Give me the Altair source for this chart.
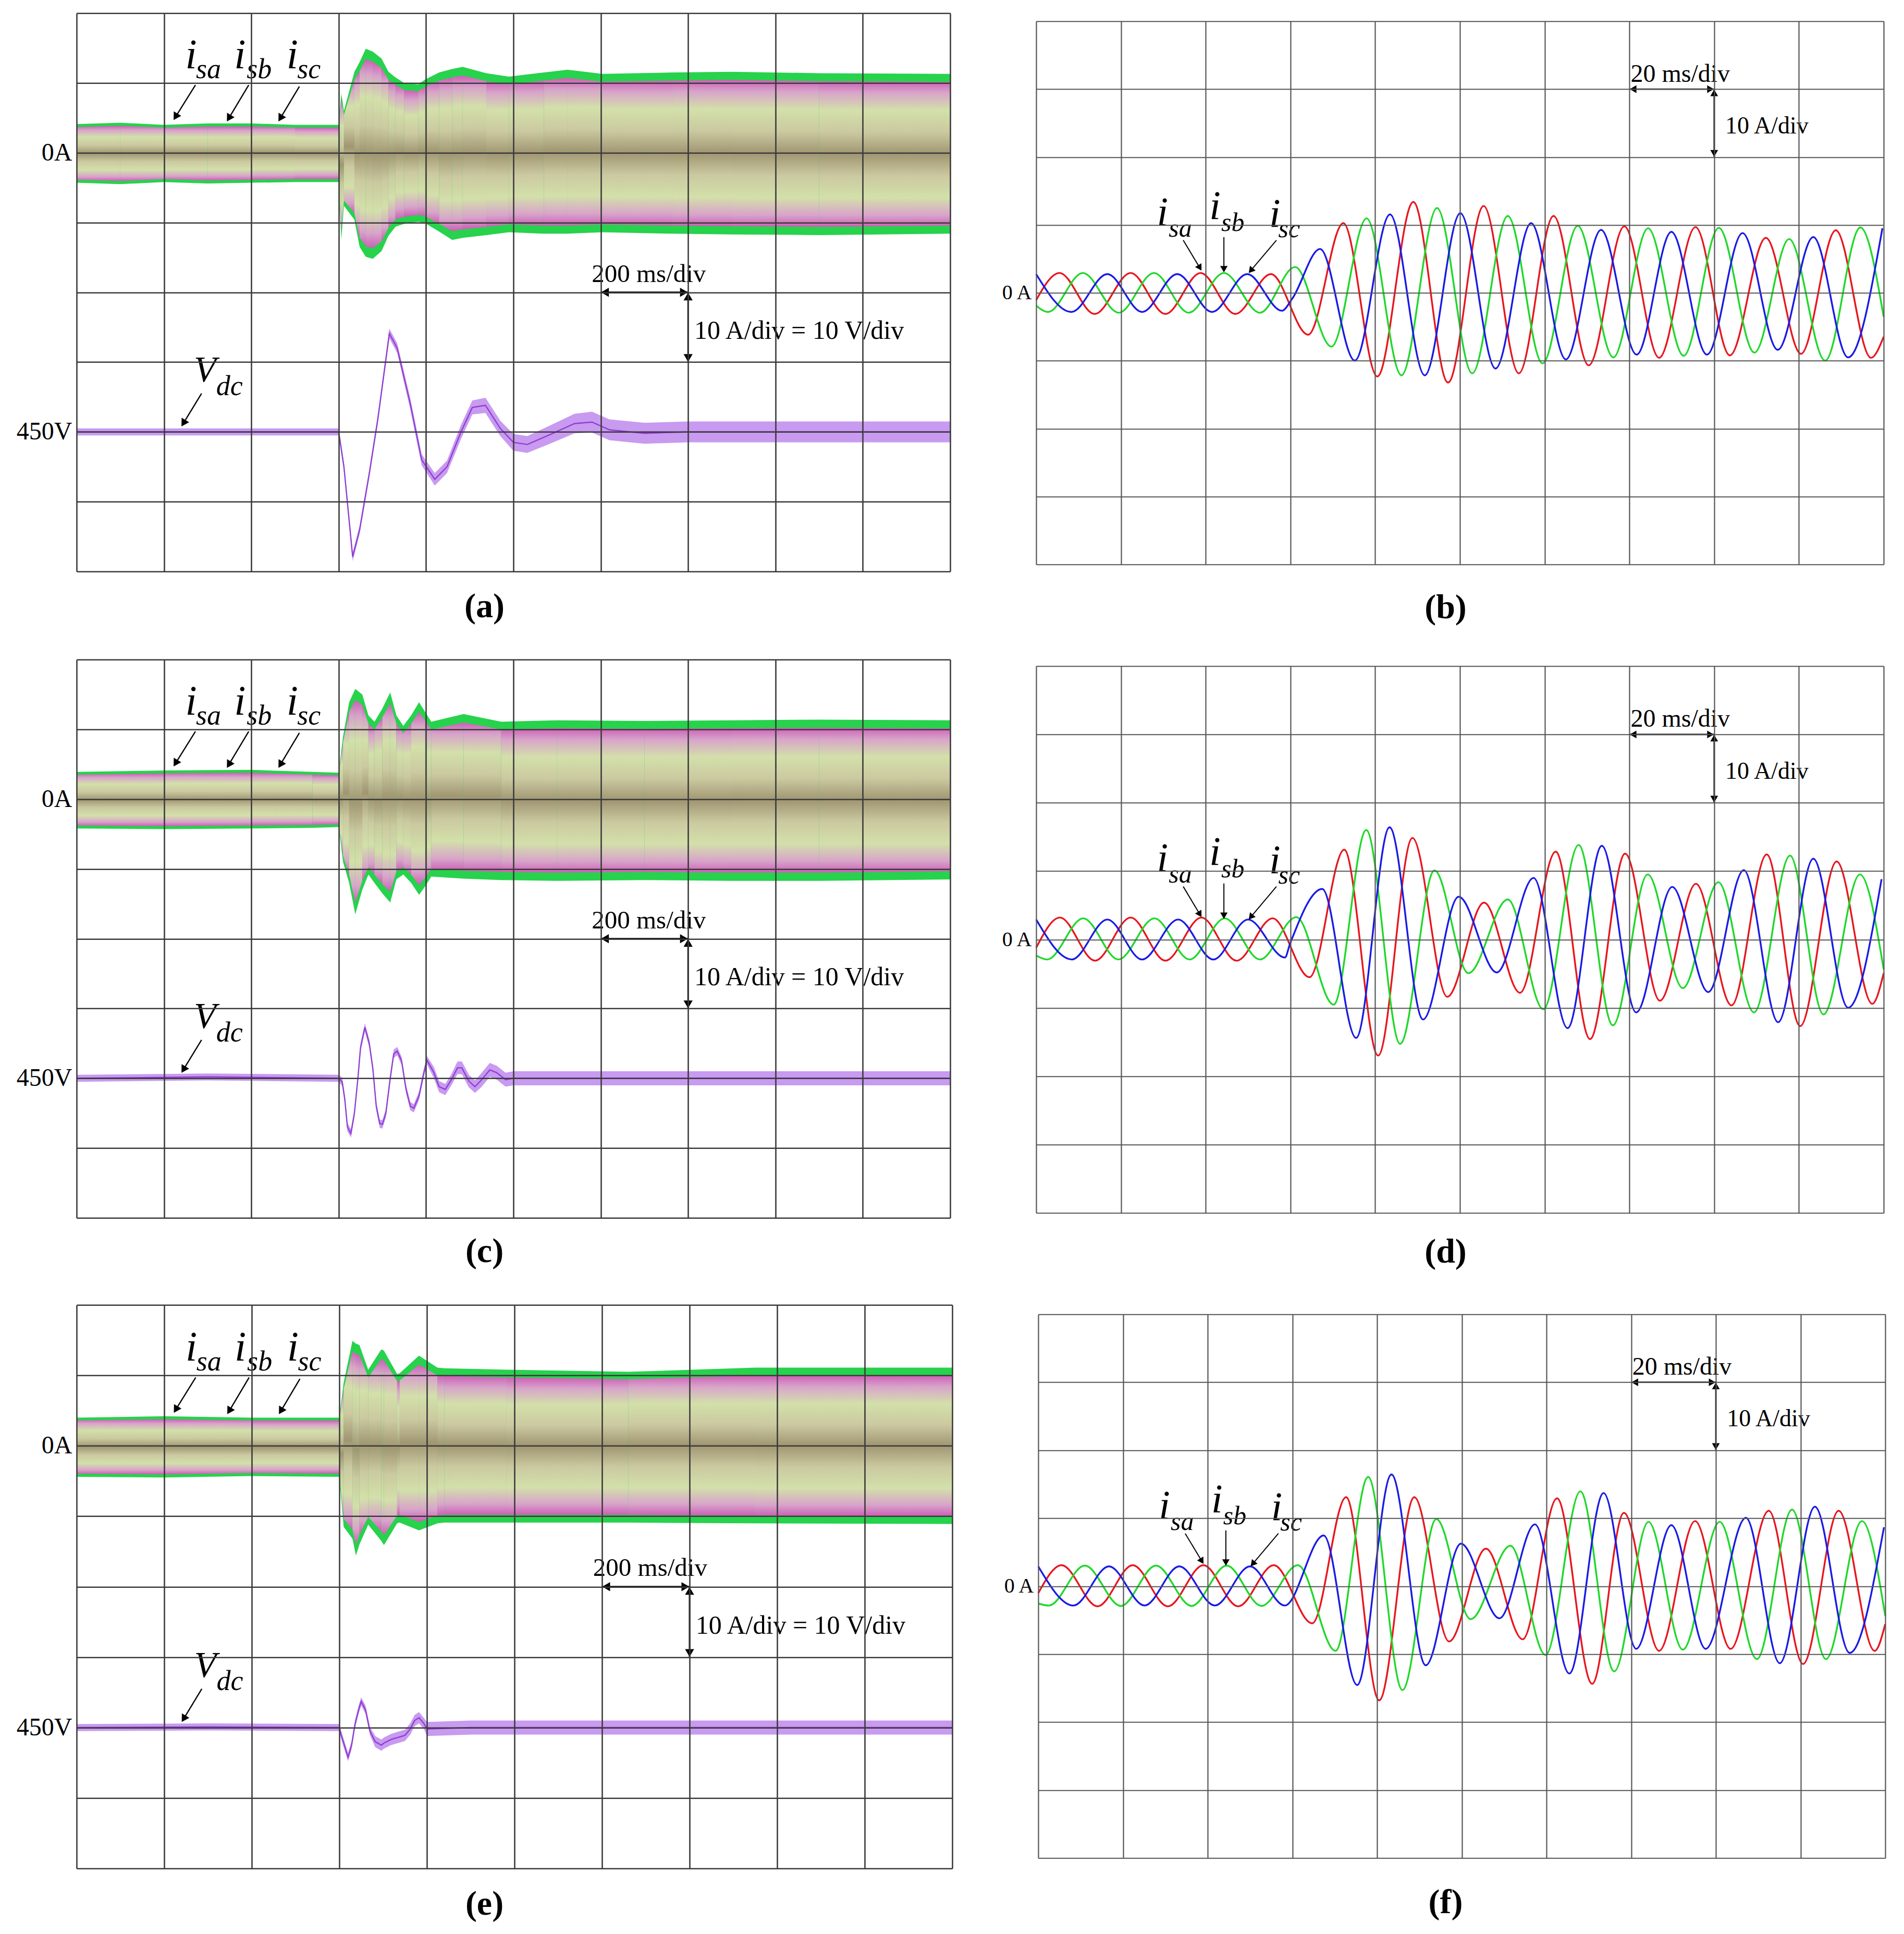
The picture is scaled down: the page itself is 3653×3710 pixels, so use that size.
import altair as alt
import pandas as pd

FONT = "Liberation Serif"

# ------------------------------------------------------------------
# Left panels: envelope of the three dense phase currents (A) and Vdc (V)
# time in ms (200 ms/div), 10 A/div, 10 V/div
# ------------------------------------------------------------------
A_ENV_T = [0, 100, 200, 300, 400, 500, 600, 606, 612, 636, 648, 662, 678, 698, 714, 730, 750, 782, 798, 830, 860, 884, 938, 990, 1070, 1124, 1204, 1364, 1500, 1700, 2000]
A_ENV_UP = [4.1, 4.3, 4.0, 4.2, 4.2, 4.0, 4.0, 8.5, 6.0, 11.6, 13.0, 14.9, 14.5, 13.5, 11.6, 10.8, 10.0, 9.8, 10.5, 11.5, 12.0, 12.3, 11.4, 10.9, 11.5, 11.9, 11.3, 11.5, 11.6, 11.4, 11.3]
A_ENV_LO = [-4.3, -4.5, -4.2, -4.4, -4.3, -4.2, -4.2, -12.4, -7.6, -9.6, -13.5, -14.9, -15.2, -14.1, -11.9, -10.6, -10.2, -9.9, -10.1, -11.3, -12.5, -12.2, -11.8, -11.4, -11.6, -11.6, -11.4, -11.6, -11.7, -11.8, -11.6]
A_VDC_T = [0, 300, 600, 612, 632, 648, 670, 690, 716, 734, 764, 790, 820, 848, 880, 906, 936, 970, 1000, 1032, 1080, 1140, 1180, 1220, 1300, 1400, 1600, 2000]
A_VDC_V = [450.0, 450.0, 450.0, 445.0, 432.1, 436.0, 444.0, 452.0, 464.1, 462.0, 454.0, 446.0, 443.2, 445.0, 450.0, 453.5, 453.8, 450.5, 448.5, 448.2, 449.5, 451.2, 451.4, 450.3, 449.8, 450.0, 450.0, 450.0]
A_VDC_R = [0.5, 0.5, 0.5, 0.6, 0.6, 0.6, 0.6, 0.6, 0.7, 0.7, 0.8, 0.8, 0.9, 0.9, 1.0, 1.0, 1.1, 1.1, 1.2, 1.2, 1.3, 1.4, 1.5, 1.5, 1.5, 1.5, 1.5, 1.5]

C_ENV_T = [0, 200, 400, 540, 600, 610, 624, 638, 654, 668, 682, 700, 718, 732, 748, 766, 784, 798, 812, 886, 972, 1100, 1300, 1500, 1700, 2000]
C_ENV_UP = [3.9, 4.1, 4.2, 3.9, 3.8, 9.0, 13.9, 15.8, 15.0, 12.0, 11.1, 13.0, 15.3, 12.0, 10.5, 12.0, 13.9, 12.5, 11.1, 12.2, 11.1, 11.3, 11.2, 11.3, 11.4, 11.3]
C_ENV_LO = [-4.2, -4.3, -4.2, -4.1, -4.0, -9.0, -12.0, -16.5, -13.0, -10.8, -12.0, -13.5, -14.8, -11.5, -10.8, -12.0, -13.7, -12.5, -11.1, -11.4, -11.6, -11.7, -11.6, -11.7, -11.7, -11.5]
C_VDC_T = [0, 300, 600, 608, 614, 620, 628, 636, 644, 650, 660, 670, 678, 686, 694, 700, 708, 718, 726, 734, 744, 754, 764, 772, 784, 794, 802, 818, 830, 844, 858, 872, 882, 898, 912, 926, 946, 962, 982, 1000, 1200, 1500, 2000]
C_VDC_V = [450.0, 450.2, 450.0, 449.5, 447.0, 443.0, 442.1, 445.0, 450.0, 454.4, 457.3, 455.0, 451.5, 446.0, 443.5, 443.4, 445.0, 450.0, 453.5, 453.9, 452.5, 448.5, 446.0, 445.7, 447.5, 450.5, 452.6, 450.8, 448.8, 448.4, 449.8, 451.5, 451.5, 449.6, 448.8, 449.7, 451.2, 450.8, 449.8, 450.0, 450.0, 450.0, 450.0]
C_VDC_R = [0.5, 0.5, 0.5, 0.6, 0.6, 0.6, 0.6, 0.6, 0.6, 0.6, 0.6, 0.6, 0.6, 0.6, 0.6, 0.6, 0.6, 0.6, 0.6, 0.6, 0.6, 0.6, 0.6, 0.6, 0.6, 0.6, 0.6, 0.8, 0.8, 0.8, 0.8, 0.9, 0.9, 0.9, 0.9, 1.0, 1.0, 1.0, 1.0, 1.0, 1.0, 1.0, 1.0]

E_ENV_T = [0, 200, 400, 600, 610, 630, 638, 646, 666, 696, 702, 732, 738, 782, 824, 840, 982, 1260, 1550, 2000]
E_ENV_UP = [4.0, 4.2, 4.0, 4.0, 9.0, 14.9, 14.5, 14.3, 10.8, 13.7, 13.5, 10.2, 10.3, 12.8, 11.1, 11.0, 10.8, 10.5, 11.1, 11.1]
E_ENV_LO = [-4.4, -4.5, -4.3, -4.4, -11.5, -13.2, -15.6, -14.0, -11.2, -13.5, -14.1, -11.0, -10.9, -12.0, -11.0, -10.9, -10.9, -10.9, -11.0, -11.1]
E_VDC_T = [0, 300, 600, 604, 620, 628, 636, 644, 650, 660, 670, 682, 696, 702, 718, 734, 750, 762, 772, 782, 794, 800, 900, 1200, 1600, 2000]
E_VDC_V = [450.0, 450.1, 450.0, 449.0, 445.8, 447.5, 450.5, 452.5, 453.7, 452.5, 449.5, 448.0, 447.5, 447.8, 448.3, 448.6, 448.9, 449.8, 451.0, 451.4, 450.5, 449.8, 450.0, 450.0, 450.0, 450.0]
E_VDC_R = [0.5, 0.5, 0.5, 0.6, 0.6, 0.6, 0.6, 0.6, 0.6, 0.6, 0.6, 0.8, 0.8, 0.8, 0.8, 0.8, 0.8, 0.8, 0.8, 0.8, 0.8, 1.0, 1.0, 1.0, 1.0, 1.0]

# ------------------------------------------------------------------
# Right panels: extrema of the three phase currents (ms, A), 20 ms/div, 10 A/div
# ------------------------------------------------------------------
B_RED_T = [0.0, 5.5, 13.8, 22.3, 30.5, 38.8, 47.0, 55.4, 64.2, 72.5, 80.5, 89.0, 97.2, 105.6, 113.9, 122.1, 130.4, 138.8, 147.0, 155.6, 163.7, 172.2, 180.5, 188.7, 197.0, 200.0]
B_RED_I = [-1.06, 2.93, -3.11, 2.93, -3.11, 2.93, -3.11, 2.76, -6.16, 10.27, -12.32, 13.38, -13.21, 12.79, -11.86, 11.33, -10.68, 9.80, -9.57, 9.68, -9.21, 8.10, -8.98, 9.21, -9.57, -6.46]
B_GRN_T = [0.0, 2.8, 11.0, 19.5, 27.8, 36.0, 44.3, 52.8, 61.1, 69.7, 78.0, 86.2, 94.6, 102.9, 111.3, 119.5, 127.8, 136.2, 144.4, 152.8, 161.1, 169.5, 177.7, 186.2, 194.5, 200.0]
B_GRN_I = [-1.88, -2.82, 2.93, -2.93, 2.93, -2.93, 2.93, -2.93, 3.81, -7.92, 10.97, -12.15, 12.50, -11.86, 11.33, -10.39, 9.86, -9.51, 9.51, -9.27, 9.57, -8.80, 7.92, -9.98, 9.63, -3.52]
B_BLU_T = [0.0, 8.3, 16.8, 25.0, 33.3, 41.5, 49.8, 58.0, 60.4, 67.0, 75.2, 83.5, 91.7, 100.1, 108.4, 116.8, 125.0, 133.3, 141.7, 149.9, 158.3, 166.7, 175.0, 183.4, 191.6, 199.7]
B_BLU_I = [2.76, -2.82, 2.76, -2.82, 2.76, -2.82, 2.76, -2.64, -0.88, 6.46, -9.98, 11.56, -12.15, 11.74, -11.15, 10.27, -9.80, 9.27, -9.10, 8.98, -9.10, 8.80, -8.39, 8.22, -9.51, 9.51]

D_RED_T = [0.0, 5.6, 13.9, 22.3, 30.5, 39.0, 47.3, 55.8, 64.5, 72.7, 80.7, 88.8, 97.0, 105.7, 114.2, 122.6, 130.7, 139.0, 147.2, 155.7, 164.1, 172.4, 180.3, 188.9, 197.3, 200.0]
D_RED_I = [-1.20, 3.21, -3.10, 3.21, -3.10, 3.21, -3.10, 3.10, -5.51, 13.14, -16.98, 14.86, -8.38, 5.39, -7.80, 12.85, -14.57, 12.56, -8.95, 8.15, -9.64, 12.45, -12.68, 11.42, -9.41, -4.93]
D_GRN_T = [0.0, 2.6, 11.1, 19.4, 27.9, 36.2, 44.5, 52.8, 61.4, 70.2, 77.9, 85.9, 94.0, 102.0, 111.3, 119.7, 128.0, 136.1, 144.3, 152.6, 161.0, 169.4, 177.9, 185.8, 194.4, 200.0]
D_GRN_I = [-2.35, -2.93, 3.10, -2.93, 3.10, -2.93, 3.10, -2.93, 3.27, -9.52, 16.01, -15.26, 10.10, -4.93, 5.85, -10.21, 13.83, -12.56, 9.52, -7.11, 8.38, -10.67, 12.28, -10.96, 9.52, -4.36]
D_BLU_T = [0.0, 8.4, 16.8, 25.0, 33.5, 41.8, 50.0, 58.7, 59.9, 67.5, 75.5, 83.4, 91.3, 99.7, 108.7, 117.4, 125.4, 133.5, 141.6, 150.1, 158.6, 167.0, 175.1, 183.4, 191.6, 199.5]
D_BLU_I = [2.93, -2.93, 2.93, -2.93, 2.93, -2.93, 2.93, -2.64, -0.63, 7.40, -14.40, 16.41, -11.70, 6.25, -4.82, 9.01, -12.97, 13.71, -10.67, 7.69, -7.69, 10.15, -12.10, 11.82, -9.98, 8.83]

F_RED_T = [0.0, 5.5, 14.0, 22.3, 30.6, 39.0, 47.2, 55.6, 64.7, 72.7, 80.5, 88.8, 97.0, 105.7, 114.4, 122.5, 130.8, 138.3, 146.6, 155.1, 163.5, 172.5, 180.6, 189.0, 197.5, 200.0]
F_RED_I = [-1.03, 3.09, -2.97, 3.09, -2.97, 3.09, -2.97, 3.09, -5.46, 13.10, -16.80, 13.10, -8.13, 5.52, -7.82, 12.92, -14.37, 10.79, -9.52, 9.58, -9.22, 11.10, -11.46, 11.10, -9.52, -5.58]
F_GRN_T = [0.0, 2.5, 11.0, 19.5, 27.8, 36.2, 44.5, 52.7, 61.3, 70.2, 77.9, 86.0, 94.0, 102.1, 111.5, 119.8, 128.0, 136.0, 144.1, 152.2, 160.9, 169.7, 178.0, 186.0, 194.5, 200.0]
F_GRN_I = [-2.55, -2.85, 3.03, -2.91, 3.03, -2.91, 3.03, -2.91, 3.09, -9.52, 16.07, -15.28, 9.88, -4.85, 5.94, -10.13, 13.95, -12.55, 9.46, -9.34, 9.46, -10.73, 11.28, -10.73, 9.58, -4.37]
F_BLU_T = [0.0, 8.3, 16.7, 25.1, 33.3, 41.7, 50.0, 58.2, 67.4, 75.3, 83.4, 91.5, 99.8, 108.9, 117.3, 125.4, 133.5, 141.2, 149.5, 157.6, 167.1, 175.1, 183.4, 191.6, 199.7]
F_BLU_I = [2.91, -2.85, 2.91, -2.85, 2.91, -2.85, 2.91, -2.85, 7.46, -14.55, 16.43, -11.64, 6.25, -4.73, 9.10, -12.86, 13.70, -9.22, 8.97, -9.22, 10.07, -11.34, 11.70, -9.82, 8.67]

# ------------------------------------------------------------------
# Annotation texts (anchors in data units)
# ------------------------------------------------------------------
PHASE_SUBS = ["sa", "sb", "sc"]
LEFT_I_T = [262, 374, 494]
LEFT_I_Y = [3.21, 3.21, 3.21]
LEFT_SUB_T = [302, 418, 532]
LEFT_SUB_Y = [3.07, 3.07, 3.07]
LEFT_ARROW_T = [272, 394, 510, 286]
LEFT_ARROW_Y = [2.97, 2.97, 2.95, -1.45]
LEFT_ARROW_T2 = [228, 350, 468, 246]
LEFT_ARROW_Y2 = [2.53, 2.51, 2.51, -1.86]
LEFT_ARROW_ANG = [211, 211, 211, 211]

RIGHT_I_T = [29.8, 42.2, 56.3]
RIGHT_I_Y = [9.98, 10.9, 9.7]
RIGHT_SUB_T = [34.0, 46.4, 59.7]
RIGHT_SUB_Y = [8.3, 9.1, 8.2]
RIGHT_ARROW_T = [34.7, 44.3, 56.7]
RIGHT_ARROW_Y = [7.75, 8.2, 7.75]
RIGHT_ARROW_T2 = [38.5, 44.3, 50.8]
RIGHT_ARROW_Y2 = [3.81, 3.64, 3.40]
RIGHT_ARROW_ANG = [149, 180, 220]

RED, GRN, BLU = "#e8161e", "#1fd82a", "#1a1ae6"

BAND_GRADIENT = alt.Gradient(
    gradient="linear", x1=0, x2=0, y1=0, y2=1,
    stops=[alt.GradientStop(offset=0.0, color="#cc5fb6"),
           alt.GradientStop(offset=0.08, color="#d8a4ca"),
           alt.GradientStop(offset=0.2, color="#d3e0aa"),
           alt.GradientStop(offset=0.35, color="#cbc9a0"),
           alt.GradientStop(offset=0.5, color="#a09672"),
           alt.GradientStop(offset=0.65, color="#cbc9a0"),
           alt.GradientStop(offset=0.8, color="#d3e0aa"),
           alt.GradientStop(offset=0.92, color="#d8a4ca"),
           alt.GradientStop(offset=1.0, color="#cc5fb6")])


def make_x(domain, step, caption, cap_pad, cap_x, gcol, gw):
    return alt.X("t:Q", scale=alt.Scale(domain=domain, nice=False, zero=False),
                 axis=alt.Axis(values=list(range(domain[0], domain[1] + 1, step)), grid=True,
                               gridColor=gcol, gridWidth=gw, labels=False, ticks=False,
                               domain=False, zindex=1, title=caption, titleFont=FONT,
                               titleFontSize=66, titleFontWeight="bold", titleColor="black",
                               titlePadding=cap_pad, titleX=cap_x, titleAlign="center",
                               titleBaseline="top"))


def make_y(domain, step, expr, test, lab_pad, lab_size, gcol, gw):
    return alt.Y("y:Q", scale=alt.Scale(domain=domain, nice=False, zero=False),
                 axis=alt.Axis(values=list(range(domain[0], domain[1] + 1, step)), grid=True,
                               gridColor=gcol, gridWidth=gw, ticks=False, domain=False,
                               labelExpr=expr, labelFont=FONT,
                               labelFontSize={"condition": {"test": test, "value": lab_size},
                                              "value": 0},
                               labelColor="black", labelPadding=lab_pad, labelOverlap=False,
                               labelFlush=False, title=None, zindex=1))


def texts(df, X, Y, size, style="italic", align="center"):
    return alt.Chart(df).mark_text(font=FONT, fontSize=size, fontStyle=style, align=align,
                                   baseline="alphabetic", color="black").encode(
        x=X, y=Y, text="txt:N")


def rules(df, X, Y, w=2.6):
    return alt.Chart(df).mark_rule(color="black", strokeWidth=w).encode(
        x=X, y=Y, x2="t2:Q", y2="y2:Q")


def heads(df, X, Y, shape, size=300, xo=0, yo=0, with_angle=False):
    m = alt.Chart(df).mark_point(shape=shape, filled=True, size=size, color="black",
                                 opacity=1, strokeWidth=0, xOffset=xo, yOffset=yo)
    enc = dict(x=X, y=Y)
    if with_angle:
        enc["angle"] = alt.Angle("ang:Q", scale=None)
    return m.encode(**enc)


def spacer(y_from, y_to):
    # invisible rule outside the plot area, used only to steer the concat layout
    return alt.Chart(pd.DataFrame({"k": [0]})).mark_rule(
        color="white", opacity=0, strokeWidth=1).encode(
        x=alt.value(0), y=alt.value(y_from), y2=alt.value(y_to))


def envelope_segments(t, up, lo):
    # pair consecutive envelope readings so that each piece gets its own gradient box
    seg, tt, uu, ll = [], [], [], []
    for k in range(len(t) - 1):
        for j in (k, k + 1):
            seg.append(k)
            tt.append(t[j])
            uu.append(up[j])
            ll.append(lo[j])
    return pd.DataFrame({"seg": seg, "t": tt, "up": uu, "lo": ll})


def left_panel(env_t, env_up, env_lo, vdc_t, vdc_v, vdc_r, caption, width, height,
               cap_pad, cap_x, top_gap, bottom_gap):
    X = make_x([0, 2000], 200, caption, cap_pad, cap_x, "#3a3a3a", 2.6)
    Y = make_y([-4, 4], 1, "datum.value == 2 ? '0A' : (datum.value == -2 ? '450V' : '')",
               "datum.value == 2 || datum.value == -2", 9, 48, "#3a3a3a", 2.6)
    env = pd.DataFrame({"t": env_t, "up": env_up, "lo": env_lo})
    segs = envelope_segments(env_t, env_up, env_lo)
    vdc = pd.DataFrame({"t": vdc_t, "v": vdc_v, "r": vdc_r})
    layers = [alt.Chart(env).transform_calculate(
        y="2 + datum.up / 10", y2="2 + datum.lo / 10"
    ).mark_area(color="#27d24c").encode(x=X, y=Y, y2="y2:Q"),
        alt.Chart(segs).transform_calculate(
        y="2 + datum.up * 0.9 / 10", y2="2 + datum.lo * 0.9 / 10"
    ).mark_area(color=BAND_GRADIENT).encode(x=X, y=Y, y2="y2:Q", detail="seg:N")]
    layers.append(alt.Chart(vdc).transform_calculate(
        y="-2 + (datum.v + datum.r - 450) / 10", y2="-2 + (datum.v - datum.r - 450) / 10"
    ).mark_area(color="#c89af0", opacity=1).encode(x=X, y=Y, y2="y2:Q"))
    layers.append(alt.Chart(vdc).transform_calculate(y="-2 + (datum.v - 450) / 10").mark_line(
        color="#8f3fd2", strokeWidth=2.4).encode(x=X, y=Y))

    i_df = pd.DataFrame({"t": LEFT_I_T, "y": LEFT_I_Y, "txt": ["i", "i", "i"]})
    s_df = pd.DataFrame({"t": LEFT_SUB_T, "y": LEFT_SUB_Y, "txt": PHASE_SUBS})
    v_df = pd.DataFrame({"t": [294], "y": [-1.28], "txt": ["V"]})
    dc_df = pd.DataFrame({"t": [350], "y": [-1.47], "txt": ["dc"]})
    s1 = pd.DataFrame({"t": [1310], "y": [0.15], "txt": ["200 ms/div"]})
    s2 = pd.DataFrame({"t": [1414], "y": [-0.67], "txt": ["10 A/div = 10 V/div"]})
    layers += [texts(i_df, X, Y, 80), texts(s_df, X, Y, 54), texts(v_df, X, Y, 70),
               texts(dc_df, X, Y, 54), texts(s1, X, Y, 49, "normal"),
               texts(s2, X, Y, 50, "normal", "left")]
    arr = pd.DataFrame({"t": LEFT_ARROW_T, "y": LEFT_ARROW_Y, "t2": LEFT_ARROW_T2,
                        "y2": LEFT_ARROW_Y2})
    arr_h = pd.DataFrame({"t": LEFT_ARROW_T2, "y": LEFT_ARROW_Y2, "ang": LEFT_ARROW_ANG})
    sc = pd.DataFrame({"t": [1200, 1400], "y": [0, 0], "t2": [1400, 1400], "y2": [0, -1]})
    layers += [rules(arr, X, Y, 2.4), heads(arr_h, X, Y, "triangle", 280, with_angle=True),
               rules(sc, X, Y, 3.0),
               heads(pd.DataFrame({"t": [1200], "y": [0]}), X, Y, "triangle-left", 300, xo=8),
               heads(pd.DataFrame({"t": [1400], "y": [0]}), X, Y, "triangle-right", 300, xo=-8),
               heads(pd.DataFrame({"t": [1400], "y": [0]}), X, Y, "triangle-up", 300, yo=8),
               heads(pd.DataFrame({"t": [1400], "y": [-1]}), X, Y, "triangle-down", 300, yo=-8)]
    if top_gap > 0:
        layers.append(spacer(-top_gap, 0))
    if bottom_gap > 0:
        layers.append(spacer(height, height + cap_pad + 70 + bottom_gap))
    return alt.layer(*layers).properties(width=width, height=height)


def right_panel(phases, caption, width, height, cap_pad, cap_x):
    X = make_x([0, 200], 20, caption, cap_pad, cap_x, "#555555", 2.2)
    Y = make_y([-40, 40], 10, "datum.value == 0 ? '0 A' : ''", "datum.value == 0",
               9, 40, "#555555", 2.2)
    layers = []
    for (t, i), col in zip(phases, [RED, GRN, BLU]):
        df = pd.DataFrame({"t": t, "y": i})
        layers.append(alt.Chart(df).mark_line(color=col, strokeWidth=3.4,
                                              interpolate="monotone").encode(x=X, y=Y))
    i_df = pd.DataFrame({"t": RIGHT_I_T, "y": RIGHT_I_Y, "txt": ["i", "i", "i"]})
    s_df = pd.DataFrame({"t": RIGHT_SUB_T, "y": RIGHT_SUB_Y, "txt": PHASE_SUBS})
    s1 = pd.DataFrame({"t": [152], "y": [31.1], "txt": ["20 ms/div"]})
    s2 = pd.DataFrame({"t": [162.6], "y": [23.5], "txt": ["10 A/div"]})
    layers += [texts(i_df, X, Y, 78), texts(s_df, X, Y, 50), texts(s1, X, Y, 48, "normal"),
               texts(s2, X, Y, 46, "normal", "left")]
    arr = pd.DataFrame({"t": RIGHT_ARROW_T, "y": RIGHT_ARROW_Y, "t2": RIGHT_ARROW_T2,
                        "y2": RIGHT_ARROW_Y2})
    arr_h = pd.DataFrame({"t": RIGHT_ARROW_T2, "y": RIGHT_ARROW_Y2, "ang": RIGHT_ARROW_ANG})
    sc = pd.DataFrame({"t": [140, 160], "y": [30, 30], "t2": [160, 160], "y2": [30, 20]})
    layers += [rules(arr, X, Y, 2.0), heads(arr_h, X, Y, "triangle", 200, with_angle=True),
               rules(sc, X, Y, 2.6),
               heads(pd.DataFrame({"t": [140], "y": [30]}), X, Y, "triangle-left", 220, xo=7),
               heads(pd.DataFrame({"t": [160], "y": [30]}), X, Y, "triangle-right", 220, xo=-7),
               heads(pd.DataFrame({"t": [160], "y": [30]}), X, Y, "triangle-up", 220, yo=7),
               heads(pd.DataFrame({"t": [160], "y": [20]}), X, Y, "triangle-down", 220, yo=-7)]
    return alt.layer(*layers).properties(width=width, height=height)


pa = left_panel(A_ENV_T, A_ENV_UP, A_ENV_LO, A_VDC_T, A_VDC_V, A_VDC_R, "(a)",
                1676, 1071, 35, 782, 0, 13)
pc = left_panel(C_ENV_T, C_ENV_UP, C_ENV_LO, C_VDC_T, C_VDC_V, C_VDC_R, "(c)",
                1676, 1071, 32, 782, 0, 9)
pe = left_panel(E_ENV_T, E_ENV_UP, E_ENV_LO, E_VDC_T, E_VDC_V, E_VDC_R, "(e)",
                1680, 1081, 36, 782, 5, 10)
pb = right_panel([(B_RED_T, B_RED_I), (B_GRN_T, B_GRN_I), (B_BLU_T, B_BLU_I)], "(b)",
                 1626, 1042, 51, 785)
pd_ = right_panel([(D_RED_T, D_RED_I), (D_GRN_T, D_GRN_I), (D_BLU_T, D_BLU_I)], "(d)",
                  1626, 1049, 43, 785)
pf = right_panel([(F_RED_T, F_RED_I), (F_GRN_T, F_GRN_I), (F_BLU_T, F_BLU_I)], "(f)",
                 1625, 1043, 53, 781)

row1 = alt.hconcat(pa, pb, spacing=90, center=True)
row2 = alt.hconcat(pc, pd_, spacing=90, center=True)
row3 = alt.hconcat(pe, pf, spacing=90, center=True)

chart = alt.vconcat(row1, row2, row3, spacing=49).properties(
    padding={"left": 22, "top": 16, "right": 5, "bottom": 0}
).configure_view(stroke="#4a4a4a", strokeWidth=2.4).configure(background="white")

chart.save("out.html", embed_options={"renderer": "svg", "actions": False})
